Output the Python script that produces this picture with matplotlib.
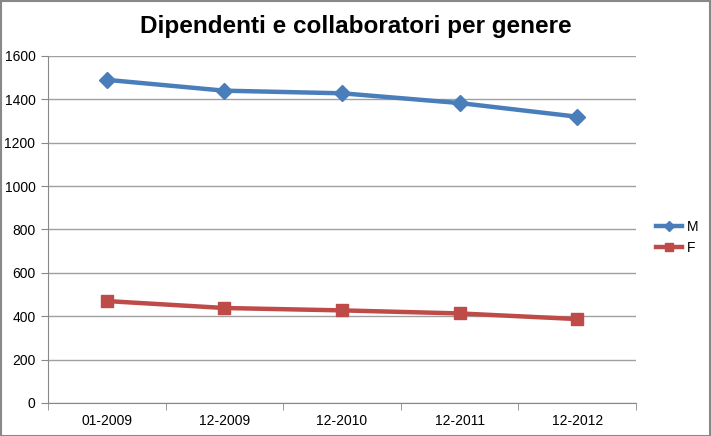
import matplotlib
matplotlib.use('Agg')
import matplotlib.pyplot as plt
from matplotlib.patches import Rectangle

plt.rcParams['font.family'] = ['Liberation Sans', 'DejaVu Sans']

categories = ['01-2009', '12-2009', '12-2010', '12-2011', '12-2012']
maschi = [1490, 1440, 1428, 1383, 1320]
femmine = [470, 438, 427, 413, 387]

fig = plt.figure(figsize=(7.11, 4.36), dpi=100)
ax = fig.add_axes([0.0675, 0.0757, 0.827, 0.7959])

x = range(len(categories))
ax.plot(x, maschi, color='#4a7ebb', lw=3.2, marker='D', ms=8, label='M')
ax.plot(x, femmine, color='#be4b48', lw=3.2, marker='s', ms=9, label='F')

ax.set_xlim(-0.5, len(categories) - 0.5)
ax.set_ylim(0, 1600)
ax.set_yticks(range(0, 1601, 200))
ax.set_xticks(list(x))
ax.set_xticklabels(categories)
ax.set_xticks([i - 0.5 for i in range(len(categories) + 1)], minor=True)
ax.tick_params(axis='x', which='major', length=0, pad=8, labelsize=10)
ax.tick_params(axis='x', which='minor', length=5, color='#888888', direction='out')
ax.tick_params(axis='y', length=5, color='#888888', direction='out', labelsize=10, pad=4)
ax.grid(axis='y', color='#a0a0a0', lw=1)
ax.set_axisbelow(True)
for s in ['top', 'right']:
    ax.spines[s].set_visible(False)
for s in ['left', 'bottom']:
    ax.spines[s].set_color('#888888')

fig.text(0.5, 0.94, 'Dipendenti e collaboratori per genere', ha='center', va='center',
         fontsize=17.5, fontweight='bold')

fig.legend(loc='center left', bbox_to_anchor=(0.905, 0.455), frameon=False,
           handlelength=1.9, handletextpad=0.3, labelspacing=0.5, fontsize=10,
           markerscale=0.65)

fig.patches.append(Rectangle((0.001, 0.001), 0.997, 0.997, transform=fig.transFigure,
                             fill=False, edgecolor='#888888', lw=1.5))

fig.savefig('out.png', dpi=100)
